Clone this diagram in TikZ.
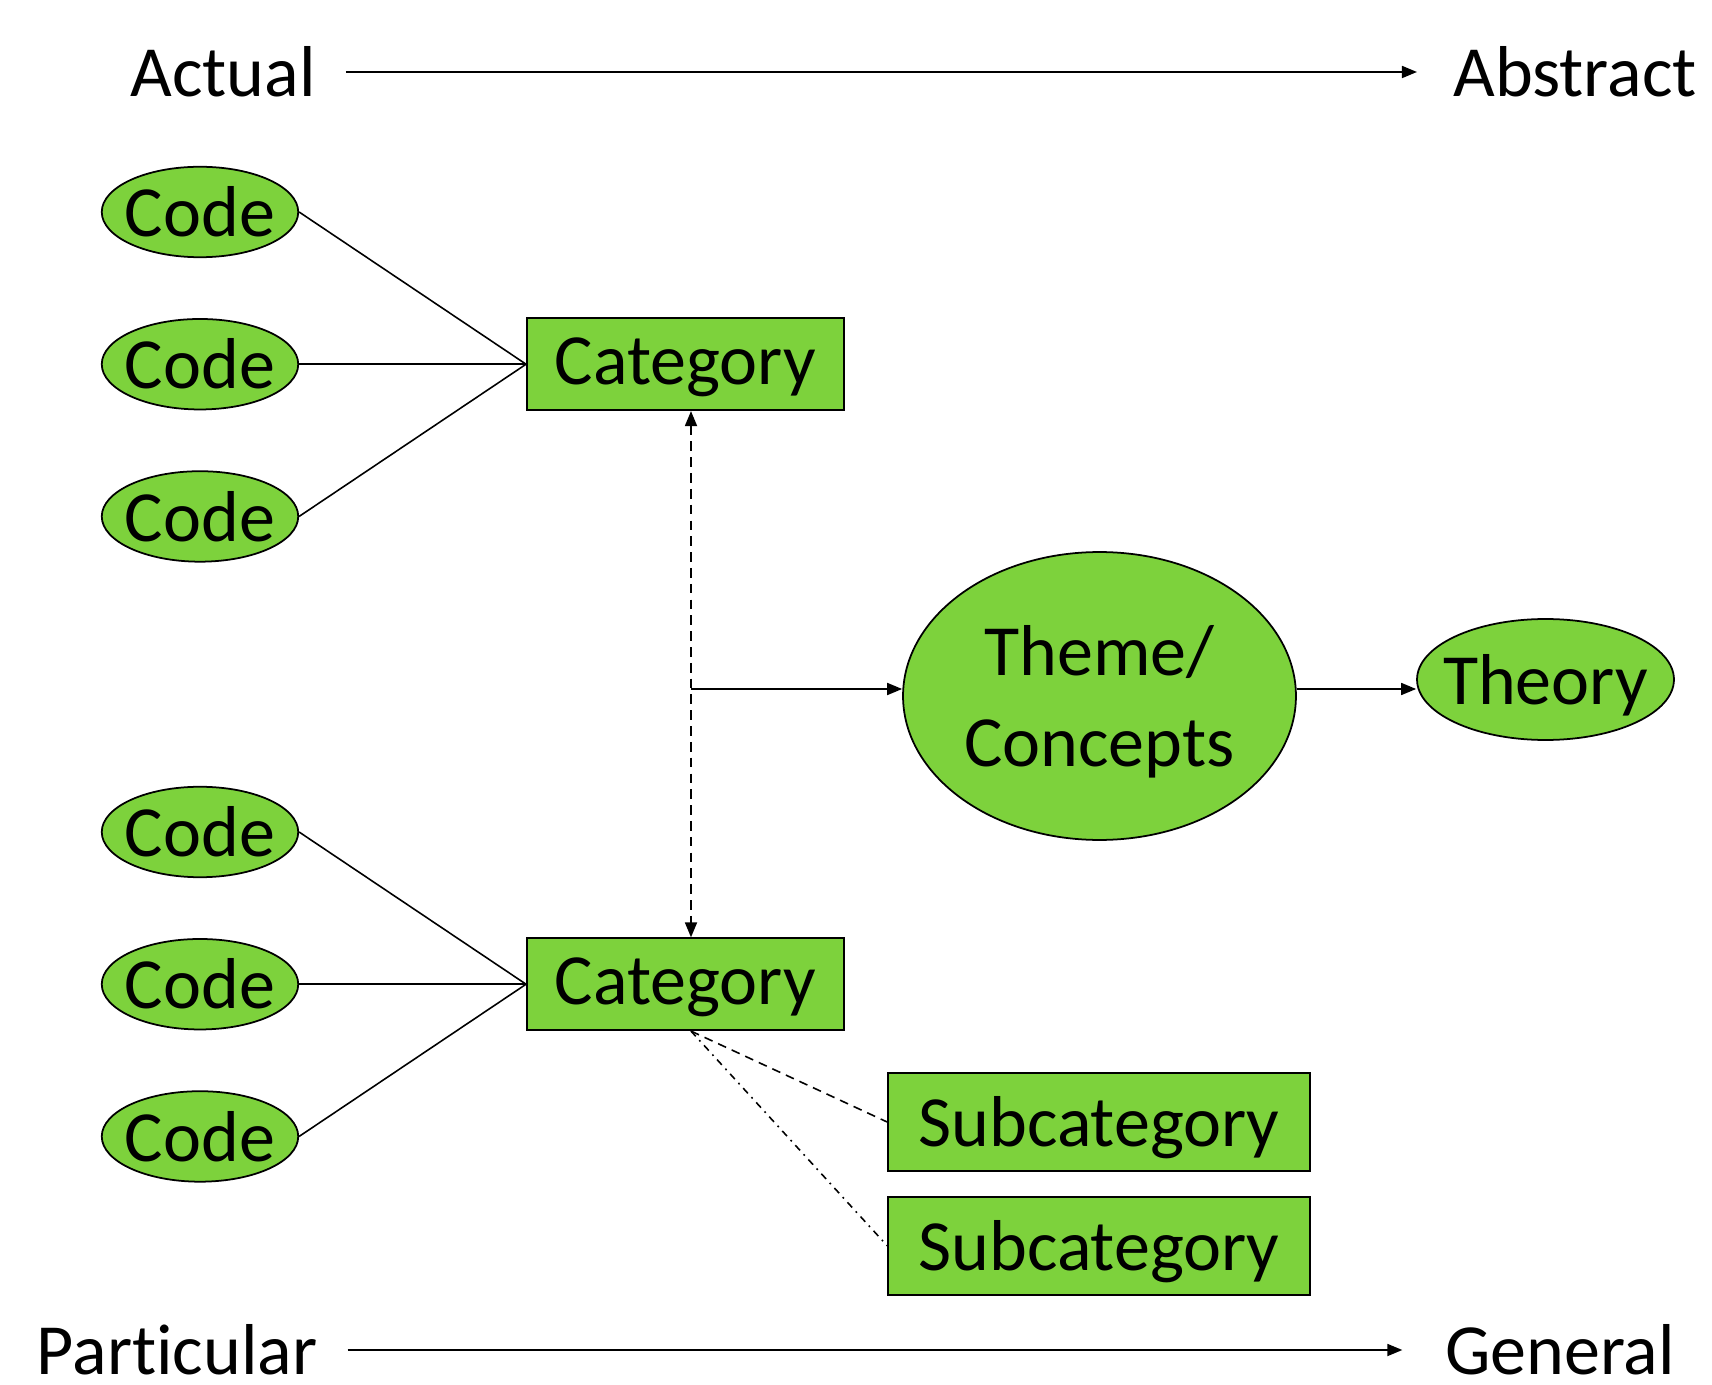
\documentclass[tikz,border=0pt]{standalone}
\usepackage{fontspec}
\setmainfont{Carlito}[Ligatures=NoCommon]
\usetikzlibrary{shapes.geometric, arrows.meta, positioning}
\definecolor{nodegreen}{RGB}{125,210,60}

\begin{document}
\begin{tikzpicture}[
    x=0.02cm, y=-0.02cm,
    font=\fontsize{41}{51.5}\selectfont,
    codeell/.style={ellipse, draw=black, line width=1pt, fill=nodegreen, minimum width=3.93cm, minimum height=1.81cm, inner xsep=-0.15cm, inner ysep=0pt},
    catbox/.style={rectangle, draw=black, line width=1pt, fill=nodegreen, minimum width=6.34cm, minimum height=1.84cm, inner sep=0pt, text height=30pt},
    subbox/.style={rectangle, draw=black, line width=1pt, fill=nodegreen, minimum width=8.44cm, minimum height=1.96cm, inner sep=0pt, text height=35pt},
    themeell/.style={ellipse, draw=black, line width=1pt, fill=nodegreen, minimum width=7.86cm, minimum height=5.76cm, inner sep=0pt, align=center, text depth=-1pt},
    theoryell/.style={ellipse, draw=black, line width=1pt, fill=nodegreen, minimum width=5.14cm, minimum height=2.42cm, inner xsep=-0.25cm, inner ysep=0pt, text height=35pt},
    axislabel/.style={inner xsep=0.6cm, inner ysep=0pt},
    link/.style={line width=0.9pt},
    arrow/.style={-{Triangle[length=0.3cm, width=0.24cm]}, line width=1pt},
    dblarrow/.style={{Triangle[length=0.3cm, width=0.24cm]}-{Triangle[length=0.3cm, width=0.24cm]}, line width=1pt, dash pattern=on 5.5pt off 3.5pt},
    dashlink/.style={line width=0.9pt, dash pattern=on 5pt off 3.5pt},
    dotlink/.style={line width=0.9pt, dash pattern=on 4pt off 3pt on 1pt off 3pt}
]
\useasboundingbox (0,0) rectangle (1712,1385);

% Axis labels
\node[axislabel] (actual) at (223,72) {Actual};
\node[axislabel] (abstract) at (1575,72) {Abstract};
\node[axislabel] (particular) at (177,1350) {Particular};
\node[axislabel] (general) at (1560,1350) {General};

% Upper codes and category
\node[codeell] (c1) at (200,212) {Code};
\node[codeell, below=1.2cm of c1] (c2) {Code};
\node[codeell, below=1.2cm of c2] (c3) {Code};
\node[catbox, right=4.54cm of c2] (cat1) {Category};

% Lower codes and category
\node[codeell] (c4) at (200,832) {Code};
\node[codeell, below=1.2cm of c4] (c5) {Code};
\node[codeell, below=1.2cm of c5] (c6) {Code};
\node[catbox, right=4.54cm of c5] (cat2) {Category};

% Subcategories
\node[subbox] (sub1) at (1099,1122) {Subcategory};
\node[subbox, below=0.48cm of sub1] (sub2) {Subcategory};

% Theme and theory
\node[themeell] (theme) at (1099.5,696) {Theme/\\Concepts};
\node[theoryell] (theory) at (1545.5,679.5) {Theory};

\coordinate (junction) at (691,689);

% Axis arrows
\draw[arrow, shorten >=0.12cm] (actual) -- (abstract);
\draw[arrow, shorten >=0.25cm] (particular) -- (general);

% Codes to categories
\draw[link] (c1.east) -- (cat1.west);
\draw[link] (c2.east) -- (cat1.west);
\draw[link] (c3.east) -- (cat1.west);
\draw[link] (c4.east) -- (cat2.west);
\draw[link] (c5.east) -- (cat2.west);
\draw[link] (c6.east) -- (cat2.west);

% Between categories
\draw[dblarrow] (junction |- cat1.south) -- (junction |- cat2.north);

% Towards theme and theory
\draw[arrow] (junction) -- (junction -| theme.west);
\draw[arrow] (junction -| theme.east) -- (junction -| theory.west);

% Category to subcategories
\draw[dashlink] (junction |- cat2.south) -- (sub1.west);
\draw[dotlink] (junction |- cat2.south) -- (sub2.west);

\end{tikzpicture}
\end{document}
